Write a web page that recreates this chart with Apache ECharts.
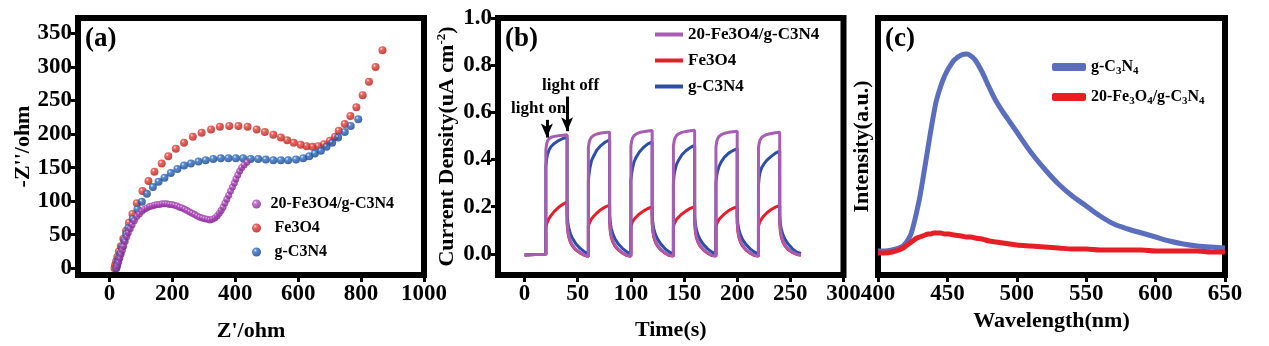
<!DOCTYPE html>
<html><head><meta charset="utf-8">
<script src="https://cdn.jsdelivr.net/npm/echarts@6/dist/echarts.min.js"></script>
<style>html,body{margin:0;padding:0;background:#fff}#c{width:1269px;height:346px}</style>
</head><body><div id="c"></div>
<script>
// ---------- (a) Nyquist plot ----------
const aCompX = [22,25,29,33,37,41,45,50,55,60,66,72,79,87,95,103,111,119,127,135,143,151,159,167,175,183,191,199,207,215,223,231,239,247,255,263,271,279,287,295,303,311,319,327,335,342,349,355,361,367,373,379,385,391,397,402,408,414,420,428,437];
const aCompY = [0,4,9,15,21,27,33,40,47,53,59,65,71,77,81,85,88,90,92,93,94,95,95,96,96,96,95,95,94,93,91,90,88,86,84,82,80,78,76,75,74,73,72,73,75,78,82,86,91,97,103,109,115,121,127,133,139,145,150,154,158];
const aFeX = [16,18,21,25,30,36,44,53,62,73,87,105,124,143,166,187,211,237,265,293,323,351,381,410,439,468,494,521,545,565,586,608,627,646,664,682,701,717,729,748,766,785,805,825,846,868];
const aFeY = [0,5,10,17,25,33,44,56,68,81,97,115,130,144,156,167,178,187,196,202,207,211,212,212,211,207,203,199,195,191,187,184,182,181,182,185,190,196,205,215,227,240,258,278,300,325];
const aGX = [22,24,27,30,34,40,47,53,60,74,89,103,119,138,156,175,195,216,237,259,283,306,330,354,378,402,425,449,473,497,521,545,568,593,616,635,653,672,690,708,727,748,767,791];
const aGY = [0,5,11,16,22,32,42,51,60,74,88,99,111,121,129,135,142,148,153,156,159,161,163,164,164,164,164,163,163,162,161,161,161,162,164,167,171,175,181,187,195,203,212,222];
const aLabels = ['20-Fe3O4/g-C3N4', ' Fe3O4', ' g-C3N4'];
const aXTicks = [0,200,400,600,800,1000];
const aYTicks = [0,50,100,150,200,250,300,350];

// ---------- (b) photocurrent ----------
const bTime = [0,5,10,15,
 20,20,20.7,21.5,23,25,28,32,36,40,40,40.7,41.5,43,45,48,52,56,
 60,60,60.7,61.5,63,65,68,72,76,80,80,80.7,81.5,83,85,88,92,96,
 100,100,100.7,101.5,103,105,108,112,116,120,120,120.7,121.5,123,125,128,132,136,
 140,140,140.7,141.5,143,145,148,152,156,160,160,160.7,161.5,163,165,168,172,176,
 180,180,180.7,181.5,183,185,188,192,196,200,200,200.7,201.5,203,205,208,212,216,
 220,220,220.7,221.5,223,225,228,232,236,240,240,240.7,241.5,243,245,248,252,256,260];
const bComposite = [-0.005,-0.004,-0.003,-0.003,
 -0.003,0.44,0.465,0.478,0.488,0.494,0.498,0.501,0.503,0.505,0.14,0.1,0.078,0.055,0.037,0.02,0.006,-0.005,
 -0.012,0.45,0.472,0.484,0.495,0.502,0.508,0.512,0.514,0.516,0.14,0.1,0.078,0.055,0.037,0.02,0.005,-0.006,
 -0.011,0.455,0.478,0.49,0.501,0.508,0.514,0.518,0.521,0.523,0.14,0.099,0.077,0.054,0.036,0.019,0.005,-0.006,
 -0.01,0.456,0.479,0.491,0.502,0.509,0.515,0.519,0.522,0.524,0.14,0.099,0.077,0.054,0.036,0.019,0.005,-0.006,
 -0.01,0.452,0.475,0.487,0.498,0.505,0.511,0.515,0.518,0.52,0.14,0.099,0.077,0.054,0.036,0.019,0.005,-0.006,
 -0.01,0.448,0.47,0.482,0.493,0.5,0.506,0.51,0.513,0.516,0.14,0.1,0.078,0.055,0.037,0.02,0.007,-0.002,-0.005];
const bFe = [-0.005,-0.004,-0.003,-0.003,
 -0.003,0.11,0.125,0.135,0.15,0.163,0.18,0.197,0.21,0.22,0.13,0.093,0.071,0.05,0.033,0.017,0.004,-0.006,
 -0.012,0.115,0.127,0.136,0.148,0.159,0.173,0.188,0.199,0.206,0.13,0.093,0.071,0.05,0.033,0.017,0.003,-0.007,
 -0.011,0.115,0.126,0.135,0.146,0.156,0.169,0.182,0.192,0.199,0.13,0.093,0.071,0.05,0.033,0.017,0.003,-0.007,
 -0.01,0.114,0.126,0.134,0.146,0.156,0.169,0.182,0.193,0.2,0.13,0.093,0.071,0.05,0.033,0.017,0.003,-0.007,
 -0.01,0.113,0.125,0.134,0.146,0.156,0.169,0.183,0.193,0.199,0.13,0.093,0.071,0.05,0.033,0.017,0.003,-0.007,
 -0.01,0.115,0.128,0.137,0.149,0.16,0.174,0.188,0.198,0.205,0.13,0.093,0.071,0.05,0.033,0.017,0.005,-0.003,-0.006];
const bG = [-0.005,-0.004,-0.003,-0.003,
 -0.003,0.37,0.40,0.42,0.44,0.455,0.468,0.48,0.489,0.495,0.17,0.133,0.112,0.086,0.066,0.044,0.024,0.01,
 -0.002,0.31,0.34,0.365,0.395,0.415,0.44,0.46,0.474,0.483,0.165,0.128,0.108,0.084,0.064,0.043,0.023,0.009,
 -0.002,0.31,0.34,0.362,0.39,0.41,0.432,0.452,0.466,0.475,0.165,0.128,0.107,0.083,0.063,0.042,0.022,0.008,
 -0.002,0.30,0.335,0.355,0.38,0.398,0.42,0.438,0.451,0.46,0.16,0.125,0.104,0.081,0.061,0.041,0.022,0.008,
 -0.002,0.30,0.33,0.35,0.372,0.39,0.41,0.427,0.438,0.446,0.16,0.124,0.104,0.081,0.061,0.041,0.022,0.008,
 -0.002,0.29,0.325,0.345,0.365,0.38,0.397,0.413,0.427,0.435,0.16,0.124,0.104,0.081,0.061,0.041,0.021,0.007,0.001];
const bLabels = ['20-Fe3O4/g-C3N4', 'Fe3O4', 'g-C3N4'];
const bXTicks = [0,50,100,150,200,250,300];
const bYTicks = [0,0.2,0.4,0.6,0.8,1.0];
const bArrowOn = [[21,0.568],[21,0.493]];
const bArrowOff = [[40,0.667],[40,0.52]];

// ---------- (c) PL spectra ----------
const cWave = [400,405,410,415,418,420,422,424,426,428,430,432,434,436,438,440,442,445,448,451,455,460,464,467,470,475,480,485,490,495,500,510,520,530,540,550,560,570,580,590,600,610,620,630,640,650];
const cG = [24,24,25,27,29,32,36,42,52,64,77,93,110,127,144,160,174,188,199,207,215,220,221,219,215,203,188,174,163,153,143,123,106,91,79,69,59,51,46,42,38,34,31,29,28,27];
const cComposite = [22,22,23,25,27,29,31,33,35,37,38,39,40,41,41,42,42,42,41,41,40,39,38,38,37,36,34,33,32,31,30,29,28,27,26,26,25,25,25,25,24,24,24,24,23,23];
const cLabels = ['g-C{s|3}N{s|4}', '20-Fe{s|3}O{s|4}/g-C{s|3}N{s|4}'];

// ---------- chart ----------
const FONT = "'Liberation Serif','Times New Roman',serif";
const txt = (size) => ({fontFamily: FONT, fontWeight: 'bold', fontSize: size, color: '#000'});
const zip = (xs, ys) => xs.map((x, i) => [x, ys[i]]);
const sphere = (light, base, dark) => ({type: 'radial', x: 0.36, y: 0.32, r: 0.68,
  colorStops: [{offset: 0, color: light}, {offset: 0.28, color: base}, {offset: 1, color: dark}]});

const gridStyle = {show: true, borderColor: '#000', borderWidth: 6, backgroundColor: 'transparent', containLabel: false, outerBoundsMode: 'none'};
const tick = (vals) => ({show: true, inside: false, length: 7, lineStyle: {color: '#000', width: 3}, customValues: vals});

function xAx(gi, min, max, name, gap, ticks) {
  return {
    type: 'value', gridIndex: gi, min: min, max: max,
    axisLine: {show: false, onZero: false},
    axisTick: tick(ticks),
    axisLabel: Object.assign({customValues: ticks, margin: 8, formatter: v => String(v)}, txt(23)),
    splitLine: {show: false},
    name: name, nameLocation: 'middle', nameGap: gap, nameTextStyle: txt(22), nameMoveOverlap: false
  };
}

const chart = echarts.init(document.getElementById('c'));
chart.setOption({
  animation: false,
  backgroundColor: '#fff',
  grid: [
    Object.assign({left: 78, top: 18, width: 346, height: 257}, gridStyle),
    Object.assign({left: 498, top: 18, width: 345.5, height: 257}, gridStyle),
    Object.assign({left: 878, top: 18, width: 347, height: 257}, gridStyle)
  ],
  xAxis: [
    xAx(0, -100, 1000, "Z'/ohm", 45, aXTicks),
    xAx(1, -25, 300, 'Time(s)', 44, bXTicks),
    xAx(2, 400, 650, 'Wavelength(nm)', 35, [400,450,500,550,600,650])
  ],
  yAxis: [
    {type: 'value', gridIndex: 0, min: -10, max: 373,
     axisLine: {show: false, onZero: false}, axisTick: tick(aYTicks),
     axisLabel: Object.assign({customValues: aYTicks, margin: 6, formatter: v => String(v)}, txt(23)),
     splitLine: {show: false},
     name: "-Z''/ohm", nameLocation: 'middle', nameGap: 44, nameTextStyle: txt(22), nameMoveOverlap: false},
    {type: 'value', gridIndex: 1, min: -0.09, max: 1.0,
     axisLine: {show: false, onZero: false}, axisTick: tick(bYTicks),
     axisLabel: Object.assign({customValues: bYTicks, margin: 6, formatter: v => v.toFixed(1)}, txt(23)),
     splitLine: {show: false},
     name: 'Current Density(uA cm{sup|-2})', nameLocation: 'middle', nameGap: 39, nameMoveOverlap: false,
     nameTextStyle: Object.assign({lineHeight: 24, rich: {sup: {fontFamily: FONT, fontWeight: 'bold', fontSize: 13, color: '#000', verticalAlign: 'top', lineHeight: 13}}}, txt(22))},
    {type: 'value', gridIndex: 2, min: 0, max: 257,
     axisLine: {show: false, onZero: false}, axisTick: {show: false}, axisLabel: {show: false},
     splitLine: {show: false},
     name: 'Intensity(a.u.)', nameLocation: 'middle', nameGap: 5, nameTextStyle: txt(22), nameMoveOverlap: false}
  ],
  legend: [
    {data: ['a0', 'a1', 'a2'], orient: 'vertical', left: 252, top: 196, padding: 0,
     itemWidth: 18, itemHeight: 9, itemGap: 8, icon: 'circle', selectedMode: false,
     formatter: n => aLabels[+n.slice(1)], textStyle: txt(16)},
    {data: ['b0', 'b1', 'b2'], orient: 'vertical', left: 655, top: 26, padding: 0,
     itemWidth: 28, itemHeight: 4, itemGap: 9, icon: 'rect', selectedMode: false,
     itemStyle: {borderWidth: 0},
     formatter: n => bLabels[+n.slice(1)], textStyle: txt(17)},
    {data: ['c0', 'c1'], orient: 'vertical', left: 1052, top: 57, padding: 0,
     itemWidth: 34, itemHeight: 8, itemGap: 10, icon: 'roundRect', selectedMode: false,
     itemStyle: {borderWidth: 0},
     formatter: n => cLabels[+n.slice(1)],
     textStyle: Object.assign({lineHeight: 20, rich: {s: {fontFamily: FONT, fontWeight: 'bold', fontSize: 11, color: '#000', verticalAlign: 'bottom', lineHeight: 11}}}, txt(16))}
  ],
  graphic: [
    {type: 'text', left: 85, top: 26, z: 100, style: {text: '(a)', font: "bold 27px 'Liberation Serif'", fill: '#000'}},
    {type: 'text', left: 505, top: 26, z: 100, style: {text: '(b)', font: "bold 27px 'Liberation Serif'", fill: '#000'}},
    {type: 'text', left: 885, top: 26, z: 100, style: {text: '(c)', font: "bold 27px 'Liberation Serif'", fill: '#000'}},
    {type: 'text', left: 511, top: 100, z: 100, style: {text: 'light on', font: "bold 17px 'Liberation Serif'", fill: '#000'}},
    {type: 'text', left: 542, top: 77, z: 100, style: {text: 'light off', font: "bold 17px 'Liberation Serif'", fill: '#000'}}
  ],
  series: [
    {name: 'a1', type: 'scatter', xAxisIndex: 0, yAxisIndex: 0, symbol: 'circle', symbolSize: 8, z: 2,
     itemStyle: {color: sphere('#fff0ee', '#e8403a', '#a81c16')}, data: zip(aFeX, aFeY)},
    {name: 'a2', type: 'scatter', xAxisIndex: 0, yAxisIndex: 0, symbol: 'circle', symbolSize: 8, z: 3,
     itemStyle: {color: sphere('#e6f2ff', '#2d6ec4', '#143f85')}, data: zip(aGX, aGY)},
    {name: 'a0', type: 'scatter', xAxisIndex: 0, yAxisIndex: 0, symbol: 'circle', symbolSize: 7, z: 4,
     itemStyle: {color: sphere('#fbeefc', '#b452c2', '#7e2889')}, data: zip(aCompX, aCompY)},

    {name: 'b1', type: 'line', xAxisIndex: 1, yAxisIndex: 1, symbol: 'none', showSymbol: false, z: 2,
     itemStyle: {color: '#e61e2a'}, lineStyle: {color: '#e61e2a', width: 3}, data: zip(bTime, bFe)},
    {name: 'b2', type: 'line', xAxisIndex: 1, yAxisIndex: 1, symbol: 'none', showSymbol: false, z: 3,
     itemStyle: {color: '#2c4ea3'}, lineStyle: {color: '#2c4ea3', width: 3}, data: zip(bTime, bG)},
    {name: 'b0', type: 'line', xAxisIndex: 1, yAxisIndex: 1, symbol: 'none', showSymbol: false, z: 4,
     itemStyle: {color: '#a65db2'}, lineStyle: {color: '#a65db2', width: 3}, data: zip(bTime, bComposite),
     markLine: {silent: true, symbol: ['none', 'arrow'], symbolSize: [9, 14], animation: false,
       lineStyle: {color: '#000', width: 3, type: 'solid'}, label: {show: false},
       itemStyle: {color: '#000'},
       data: [[{coord: bArrowOn[0]}, {coord: bArrowOn[1]}], [{coord: bArrowOff[0]}, {coord: bArrowOff[1]}]]}},

    {name: 'c0', type: 'line', xAxisIndex: 2, yAxisIndex: 2, symbol: 'none', showSymbol: false, smooth: 0.3, z: 2,
     itemStyle: {color: '#5a6ebd'}, lineStyle: {color: '#5a6ebd', width: 5}, data: zip(cWave, cG)},
    {name: 'c1', type: 'line', xAxisIndex: 2, yAxisIndex: 2, symbol: 'none', showSymbol: false, smooth: 0.3, z: 3,
     itemStyle: {color: '#e61e25'}, lineStyle: {color: '#e61e25', width: 5}, data: zip(cWave, cComposite)}
  ]
});
</script></body></html>
